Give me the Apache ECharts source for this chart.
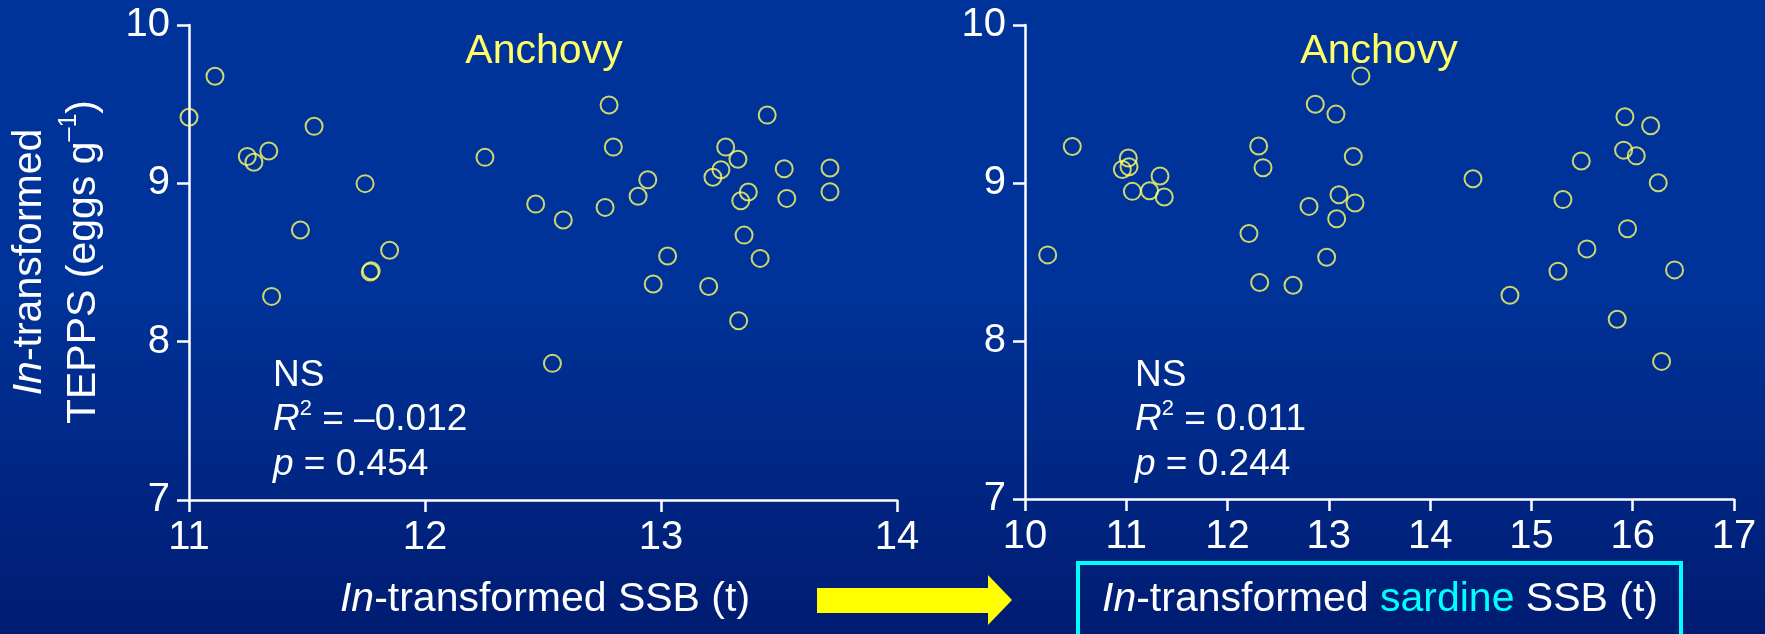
<!DOCTYPE html>
<html>
<head>
<meta charset="utf-8">
<script src="https://cdn.jsdelivr.net/npm/echarts@6/dist/echarts.min.js"></script>
<style>
html,body{margin:0;padding:0;background:#003399;}
#chart{width:1765px;height:634px;}
</style>
</head>
<body>
<div id="chart"></div>
<script>
// ---- data (ln-transformed) ----
var yTicks = [7, 8, 9, 10];
var leftXTicks = [11, 12, 13, 14];
var rightXTicks = [10, 11, 12, 13, 14, 15, 16, 17];

// Left panel: anchovy SSB vs anchovy TEPPS
var anchovySSB = [11.0, 11.11, 11.53, 11.247, 11.275, 11.338, 11.746, 11.472, 11.85, 11.768, 11.772, 11.35, 12.254, 12.469, 12.586, 12.763, 12.78, 12.798, 12.54, 12.944, 12.903, 13.45, 13.274, 13.326, 13.254, 13.22, 13.522, 13.716, 13.716, 13.533, 13.37, 13.338, 13.352, 13.028, 13.42, 12.967, 13.202, 13.329];
var anchovyTEPPS = [9.417, 9.676, 9.36, 9.17, 9.133, 9.204, 8.998, 8.705, 8.577, 8.44, 8.448, 8.286, 9.164, 8.869, 8.768, 8.848, 9.495, 9.229, 7.863, 9.023, 8.918, 9.431, 9.229, 9.152, 9.086, 9.038, 9.092, 9.097, 8.947, 8.905, 8.945, 8.89, 8.673, 8.541, 8.526, 8.364, 8.349, 8.132];

// Right panel: sardine SSB vs anchovy TEPPS
var sardineSSB = [10.224, 10.467, 11.02, 10.961, 11.027, 11.333, 11.06, 11.23, 11.375, 12.307, 12.35, 12.211, 12.317, 12.646, 12.866, 13.07, 13.317, 13.241, 13.1, 13.258, 12.804, 13.077, 12.978, 14.423, 14.788, 15.311, 15.492, 15.548, 15.262, 15.923, 16.177, 15.91, 16.035, 16.252, 15.949, 16.413, 15.847, 16.285];
var sardineTEPPS = [8.545, 9.231, 9.158, 9.086, 9.103, 9.044, 8.947, 8.951, 8.911, 9.234, 9.097, 8.68, 8.37, 8.353, 9.499, 9.436, 9.678, 9.168, 8.926, 8.874, 8.852, 8.774, 8.53, 9.027, 8.29, 8.895, 9.139, 8.583, 8.442, 9.419, 9.362, 9.208, 9.172, 9.002, 8.711, 8.45, 8.138, 7.871];

var panelTitle = 'Anchovy';
var leftStats = ['NS', '\u20130.012', '0.454'];
var rightStats = ['NS', '0.011', '0.244'];

function zip(a, b) { return a.map(function (v, i) { return [v, b[i]]; }); }

var FONT = '"Liberation Sans", Arial, sans-serif';
var WHITE = '#ffffff';
var YELLOW = '#ffff66';

function yAxis(gridIndex) {
  return {
    gridIndex: gridIndex, type: 'value',
    min: yTicks[0], max: yTicks[yTicks.length - 1], interval: 1,
    axisLine: { show: true, lineStyle: { color: WHITE, width: 2.5 } },
    axisTick: { show: true, length: 12, lineStyle: { color: WHITE, width: 2.5 } },
    axisLabel: { color: WHITE, fontSize: 40, fontFamily: FONT, margin: 19 },
    splitLine: { show: false }
  };
}
function xAxis(gridIndex, ticks) {
  return {
    gridIndex: gridIndex, type: 'value',
    min: ticks[0], max: ticks[ticks.length - 1], interval: 1,
    axisLine: { show: true, onZero: false, lineStyle: { color: WHITE, width: 2.5 } },
    axisTick: { show: true, length: 12, lineStyle: { color: WHITE, width: 2.5 } },
    axisLabel: { color: WHITE, fontSize: 40, fontFamily: FONT, margin: 18 },
    splitLine: { show: false }
  };
}
function scatter(idx, data) {
  return {
    type: 'scatter', xAxisIndex: idx, yAxisIndex: idx, data: data,
    symbol: 'circle', symbolSize: 17,
    itemStyle: { color: 'rgba(0,0,0,0)', borderColor: YELLOW, borderWidth: 2 },
    emphasis: { disabled: true }, silent: true, animation: false
  };
}

function statTexts(x, s) {
  var base = { fill: WHITE, fontSize: 37, fontFamily: FONT, align: 'left', verticalAlign: 'middle' };
  return [
    { type: 'text', x: x, y: 376, style: Object.assign({}, base, { text: s[0] }) },
    { type: 'text', x: x, y: 420, style: Object.assign({}, base, {
        text: '{it|R}{sup|2}{n| = ' + s[1] + '}',
        rich: {
          it: { fontStyle: 'italic', fontSize: 37, fontFamily: FONT, fill: WHITE, lineHeight: 44 },
          sup: { fontSize: 22, fontFamily: FONT, fill: WHITE, lineHeight: 32, verticalAlign: 'top' },
          n: { fontSize: 37, fontFamily: FONT, fill: WHITE, lineHeight: 44 }
        } }) },
    { type: 'text', x: x, y: 465, style: Object.assign({}, base, {
        text: '{it|p}{n| = ' + s[2] + '}',
        rich: {
          it: { fontStyle: 'italic', fontSize: 37, fontFamily: FONT, fill: WHITE, lineHeight: 44 },
          n: { fontSize: 37, fontFamily: FONT, fill: WHITE, lineHeight: 44 }
        } }) }
  ];
}

var graphics = [
  // panel titles
  { type: 'text', x: 544, y: 52, style: { text: panelTitle, fill: YELLOW, fontSize: 41, fontFamily: FONT, align: 'center', verticalAlign: 'middle' } },
  { type: 'text', x: 1379, y: 52, style: { text: panelTitle, fill: YELLOW, fontSize: 41, fontFamily: FONT, align: 'center', verticalAlign: 'middle' } },
  // y-axis title
  { type: 'text', x: 57, y: 262, rotation: Math.PI / 2, style: {
      text: '{it|In}{n|-transformed}\n{n|TEPPS (eggs g}{sup|\u20131}{n|)}',
      align: 'center', verticalAlign: 'middle', fill: WHITE, fontSize: 41, fontFamily: FONT,
      rich: {
        it: { fontStyle: 'italic', fontSize: 41, fontFamily: FONT, fill: WHITE, lineHeight: 54 },
        n: { fontSize: 41, fontFamily: FONT, fill: WHITE, lineHeight: 54 },
        sup: { fontSize: 25, fontFamily: FONT, fill: WHITE, lineHeight: 29, verticalAlign: 'top' }
      } } },
  // left x title
  { type: 'text', x: 545, y: 600, style: {
      text: '{it|In}{n|-transformed SSB (t)}', align: 'center', verticalAlign: 'middle',
      rich: {
        it: { fontStyle: 'italic', fontSize: 41, fontFamily: FONT, fill: WHITE },
        n: { fontSize: 41, fontFamily: FONT, fill: WHITE }
      } } },
  // right x title
  { type: 'text', x: 1380, y: 600, style: {
      text: '{it|In}{n|-transformed }{c|sardine}{n| SSB (t)}', align: 'center', verticalAlign: 'middle',
      rich: {
        it: { fontStyle: 'italic', fontSize: 41, fontFamily: FONT, fill: WHITE },
        n: { fontSize: 41, fontFamily: FONT, fill: WHITE },
        c: { fontSize: 41, fontFamily: FONT, fill: '#00ffff' }
      } } },
  // cyan box
  { type: 'rect', shape: { x: 1078, y: 563, width: 603, height: 120 }, style: { fill: 'none', stroke: '#00ffff', lineWidth: 4 } },
  // yellow arrow
  { type: 'polygon', shape: { points: [[817, 588], [988, 588], [988, 575], [1012, 600], [988, 625], [988, 613], [817, 613]] }, style: { fill: '#ffff00' } }
].concat(statTexts(273, leftStats)).concat(statTexts(1135, rightStats));

var chart = echarts.init(document.getElementById('chart'), null, { renderer: 'canvas' });
chart.setOption({
  animation: false,
  backgroundColor: {
    type: 'linear', x: 0, y: 0, x2: 0, y2: 1,
    colorStops: [{ offset: 0, color: '#003399' }, { offset: 0.45, color: '#003399' }, { offset: 1, color: '#001c72' }]
  },
  grid: [
    { left: 189, top: 25, width: 708, height: 475 },
    { left: 1025, top: 25, width: 709, height: 474 }
  ],
  xAxis: [xAxis(0, leftXTicks), xAxis(1, rightXTicks)],
  yAxis: [yAxis(0), yAxis(1)],
  series: [scatter(0, zip(anchovySSB, anchovyTEPPS)), scatter(1, zip(sardineSSB, sardineTEPPS))],
  graphic: { elements: graphics }
});
</script>
</body>
</html>
